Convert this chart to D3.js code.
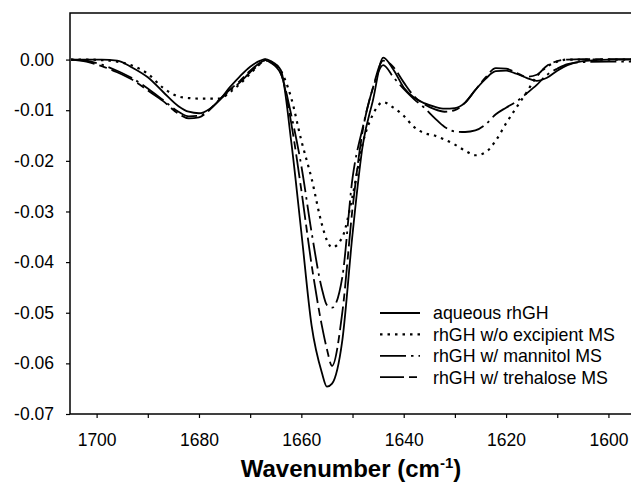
<!DOCTYPE html>
<html><head><meta charset="utf-8">
<script src="https://cdn.jsdelivr.net/npm/d3@7"></script>
<style>body{margin:0;background:#fff}svg{display:block}text{font-family:"Liberation Sans",Arial,sans-serif;fill:#000}</style>
</head><body><svg id="c" width="631" height="485"></svg>
<script>
const wavenumbers=[1705,1702,1699,1696,1693,1690,1687,1684,1682,1680,1678,1676,1674,1672,1670,1668,1667,1666,1664,1662,1660,1658,1656,1655,1654,1652,1650,1648,1646,1644,1642,1640,1638,1636,1634,1632,1630,1628,1626,1624,1622,1620,1618,1616,1614,1612,1610,1608,1605,1600,1595];
const aqueous=[0,0,0,-0.0002,-0.0016,-0.0035,-0.0064,-0.0092,-0.0103,-0.0106,-0.0098,-0.0080,-0.0055,-0.0033,-0.0014,-0.0002,0.0001,-0.0003,-0.0021,-0.0160,-0.0341,-0.0525,-0.0618,-0.0646,-0.0640,-0.0555,-0.0345,-0.0169,-0.0080,0.0004,-0.0020,-0.0055,-0.0075,-0.0086,-0.0093,-0.0097,-0.0096,-0.0085,-0.0060,-0.0038,-0.0023,-0.0022,-0.0028,-0.0036,-0.0042,-0.0036,-0.0022,-0.0011,-0.0003,0,0];
const noExcipient=[0,0,-0.0001,-0.0004,-0.0012,-0.0028,-0.0056,-0.0073,-0.0076,-0.0077,-0.0077,-0.0077,-0.0065,-0.0048,-0.0028,-0.0008,0,-0.0004,-0.0022,-0.0075,-0.0160,-0.0235,-0.0325,-0.0357,-0.0371,-0.0351,-0.0270,-0.0165,-0.0108,-0.0084,-0.0095,-0.0111,-0.0133,-0.0145,-0.0150,-0.0158,-0.0168,-0.0180,-0.0189,-0.0183,-0.0160,-0.0126,-0.0095,-0.0065,-0.0033,-0.0014,-0.0004,0,0,0,0];
const mannitol=[0,-0.0002,-0.0010,-0.0022,-0.0037,-0.0057,-0.0080,-0.0103,-0.0112,-0.0111,-0.0099,-0.0080,-0.0062,-0.0045,-0.0025,-0.0008,-0.0002,-0.0006,-0.0028,-0.0108,-0.0210,-0.0341,-0.0452,-0.0485,-0.0490,-0.0430,-0.0234,-0.0134,-0.0056,-0.0011,-0.0035,-0.0058,-0.0078,-0.0095,-0.0115,-0.0133,-0.0142,-0.0143,-0.0140,-0.0128,-0.0108,-0.0095,-0.0083,-0.0067,-0.0050,-0.0030,-0.0018,-0.0009,-0.0005,-0.0004,-0.0004];
const trehalose=[0,-0.0004,-0.0013,-0.0025,-0.0040,-0.0061,-0.0082,-0.0107,-0.0116,-0.0114,-0.0100,-0.0079,-0.0060,-0.0042,-0.0022,-0.0006,-0.0001,-0.0005,-0.0027,-0.0124,-0.0258,-0.0405,-0.0525,-0.0572,-0.0605,-0.0500,-0.0294,-0.0140,-0.0055,-0.0002,-0.0015,-0.0045,-0.0072,-0.0088,-0.0098,-0.0103,-0.0100,-0.0085,-0.0060,-0.0035,-0.0017,-0.0018,-0.0026,-0.0034,-0.0030,-0.0012,-0.0003,0,0.0001,0.0001,0.0001];
const seriesNames=["aqueous rhGH","rhGH w/o excipient MS","rhGH w/ mannitol MS","rhGH w/ trehalose MS"];
const xTicks=[1700,1690,1680,1670,1660,1650,1640,1630,1620,1610,1600];
const xTickLabels=[1700,1680,1660,1640,1620,1600];
const yTicks=[0,-0.01,-0.02,-0.03,-0.04,-0.05,-0.06,-0.07];

const svg=d3.select("#c");
const L=70,R=633,T=13,B=414;
const x=d3.scaleLinear().domain([1705.2,1595.2]).range([L,R]);
const y=d3.scaleLinear().domain([-0.07,0.0092]).range([B,T]);

const dashes=[null,"2.5,5","26,5,2.5,5","24,5,8,5"];
const allSeries=[aqueous,noExcipient,mannitol,trehalose];

svg.append("defs").append("clipPath").attr("id","clip").append("rect").attr("x",L).attr("y",T).attr("width",R-L).attr("height",B-T);

const line=d3.line().x(d=>x(d[0])).y(d=>y(d[1])).curve(d3.curveMonotoneX);
const g=svg.append("g").attr("clip-path","url(#clip)");
allSeries.forEach((s,i)=>{
  g.append("path").datum(wavenumbers.map((w,j)=>[w,s[j]]))
   .attr("d",line).attr("fill","none").attr("stroke","#000")
   .attr("stroke-width",i===1?2.2:1.8).attr("stroke-dasharray",dashes[i]);
});

// frame
svg.append("rect").attr("x",L).attr("y",T).attr("width",R-L).attr("height",B-T).attr("fill","none").attr("stroke","#000").attr("stroke-width",1.5);

// x axis
const xa=svg.append("g").attr("transform",`translate(0,${B})`)
 .call(d3.axisBottom(x).tickValues(xTicks).tickSize(4).tickFormat(d=>xTickLabels.includes(d)?d:""));
xa.select(".domain").remove();
xa.selectAll("line").attr("stroke","#000").attr("stroke-width",1.2);
xa.selectAll("text").attr("font-size",17.5).attr("dy","1.4em").style("font-family","Liberation Sans, Arial, sans-serif");

// y axis
const ya=svg.append("g").attr("transform",`translate(${L},0)`)
 .call(d3.axisLeft(y).tickValues(yTicks).tickSize(4).tickPadding(12).tickFormat(d3.format(".2f")));
ya.select(".domain").remove();
ya.selectAll("line").attr("stroke","#000").attr("stroke-width",1.2);
ya.selectAll("text").attr("font-size",17.5).style("font-family","Liberation Sans, Arial, sans-serif").text(d=>d3.format(".2f")(d).replace("−","-"));

// x title
const t=svg.append("text").attr("x",351).attr("y",477).attr("text-anchor","middle").attr("font-size",24).attr("font-weight","bold");
t.append("tspan").text("Wavenumber (cm");
t.append("tspan").attr("font-size",15).attr("dy",-9).text("-1");
t.append("tspan").attr("dy",9).text(")");

// legend
const lg=svg.append("g");
seriesNames.forEach((n,i)=>{
  const yy=313+i*21.4;
  lg.append("line").attr("x1",380).attr("x2",420).attr("y1",yy).attr("y2",yy).attr("stroke","#000")
    .attr("stroke-width",i===1?2.2:1.8).attr("stroke-dasharray",dashes[i]);
  lg.append("text").attr("x",433).attr("y",yy).attr("dy","0.36em").attr("font-size",17.8).text(n);
});
</script></body></html>
